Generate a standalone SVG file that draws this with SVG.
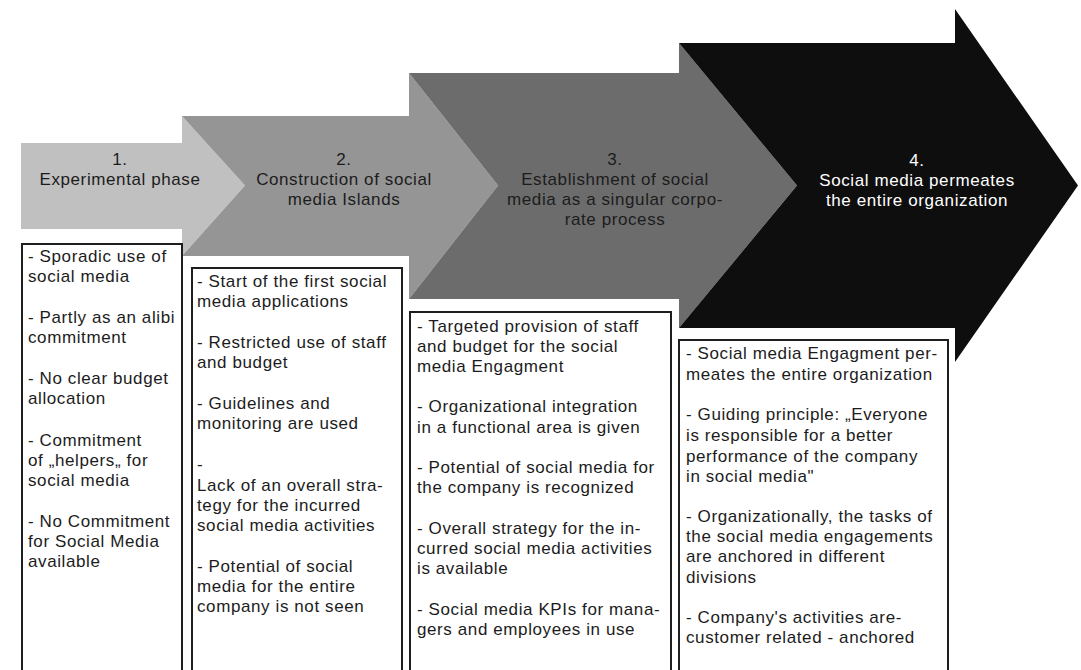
<svg xmlns="http://www.w3.org/2000/svg" width="1081" height="670" viewBox="0 0 1081 670">
<style>
text{font-family:"Liberation Sans",Arial,sans-serif;font-size:17px;letter-spacing:0.6px;fill:#1c1c1c}
.lbl{text-anchor:middle}
.w{fill:#ffffff}
.box{fill:#ffffff;stroke:#1e1e1e;stroke-width:2}
</style>
<rect width="1081" height="670" fill="#ffffff"/>
<g id="connectors"></g>
<g id="phase1">
<polygon points="21,143 182,143 182,116 245,185.5 182,256 182,229 21,229" fill="#c0c0c0"/>
<text class="lbl" x="120" y="165">1.</text>
<text class="lbl" x="120" y="185">Experimental phase</text>
</g>
<g id="phase2">
<polygon points="182,116 409,116 409,73 498,185.5 409,299 409,256 182,256 245,185.5" fill="#959595"/>
<text class="lbl" x="344" y="165">2.</text>
<text class="lbl" x="344" y="185">Construction of social</text>
<text class="lbl" x="344" y="205">media Islands</text>
</g>
<g id="phase3">
<polygon points="409,73 679,73 679,43 797,185.5 679,328 679,299 409,299 498,185.5" fill="#6c6c6c"/>
<text class="lbl" x="615" y="165">3.</text>
<text class="lbl" x="615" y="185">Establishment of social</text>
<text class="lbl" x="615" y="205">media as a singular corpo-</text>
<text class="lbl" x="615" y="225">rate process</text>
</g>
<g id="phase4">
<polygon points="679,43 955,43 955,9 1078,185.5 955,362 955,328 679,328 797,185.5" fill="#0e0e0e"/>
<text class="lbl w" x="917" y="166">4.</text>
<text class="lbl w" x="917" y="186">Social media permeates</text>
<text class="lbl w" x="917" y="206">the entire organization</text>
</g>
<g id="box1">
<rect class="box" x="22" y="244" width="160" height="440"/>
<text x="28" y="262">- Sporadic use of</text>
<text x="28" y="282">social media</text>
<text x="28" y="323">- Partly as an alibi</text>
<text x="28" y="343">commitment</text>
<text x="28" y="384">- No clear budget</text>
<text x="28" y="404">allocation</text>
<text x="28" y="446">- Commitment</text>
<text x="28" y="466">of „helpers„ for</text>
<text x="28" y="486">social media</text>
<text x="28" y="527">- No Commitment</text>
<text x="28" y="547">for Social Media</text>
<text x="28" y="567">available</text>
</g>
<g id="box2">
<rect class="box" x="192" y="268" width="210" height="420"/>
<text x="197" y="287">- Start of the first social</text>
<text x="197" y="307">media applications</text>
<text x="197" y="348">- Restricted use of staff</text>
<text x="197" y="368">and budget</text>
<text x="197" y="409">- Guidelines and</text>
<text x="197" y="429">monitoring are used</text>
<text x="197" y="470">-</text>
<text x="197" y="491">Lack of an overall stra-</text>
<text x="197" y="511">tegy for the incurred</text>
<text x="197" y="531">social media activities</text>
<text x="197" y="572">- Potential of social</text>
<text x="197" y="592">media for the entire</text>
<text x="197" y="612">company is not seen</text>
</g>
<g id="box3">
<rect class="box" x="410" y="312" width="261" height="380"/>
<text x="417" y="332">- Targeted provision of staff</text>
<text x="417" y="352">and budget for the social</text>
<text x="417" y="372">media Engagment</text>
<text x="417" y="412">- Organizational integration</text>
<text x="417" y="433">in a functional area is given</text>
<text x="417" y="473">- Potential of social media for</text>
<text x="417" y="493">the company is recognized</text>
<text x="417" y="534">- Overall strategy for the in-</text>
<text x="417" y="554">curred social media activities</text>
<text x="417" y="574">is available</text>
<text x="417" y="615">- Social media KPIs for mana-</text>
<text x="417" y="635">gers and employees in use</text>
</g>
<g id="box4">
<rect class="box" x="679" y="340" width="269" height="350"/>
<text x="686" y="359">- Social media Engagment per-</text>
<text x="686" y="380">meates the entire organization</text>
<text x="686" y="420">- Guiding principle: „Everyone</text>
<text x="686" y="441">is responsible for a better</text>
<text x="686" y="462">performance of the company</text>
<text x="686" y="482">in social media"</text>
<text x="686" y="522">- Organizationally, the tasks of</text>
<text x="686" y="542">the social media engagements</text>
<text x="686" y="562">are anchored in different</text>
<text x="686" y="583">divisions</text>
<text x="686" y="623">- Company's activities are-</text>
<text x="686" y="643">customer related - anchored</text>
</g>
</svg>
